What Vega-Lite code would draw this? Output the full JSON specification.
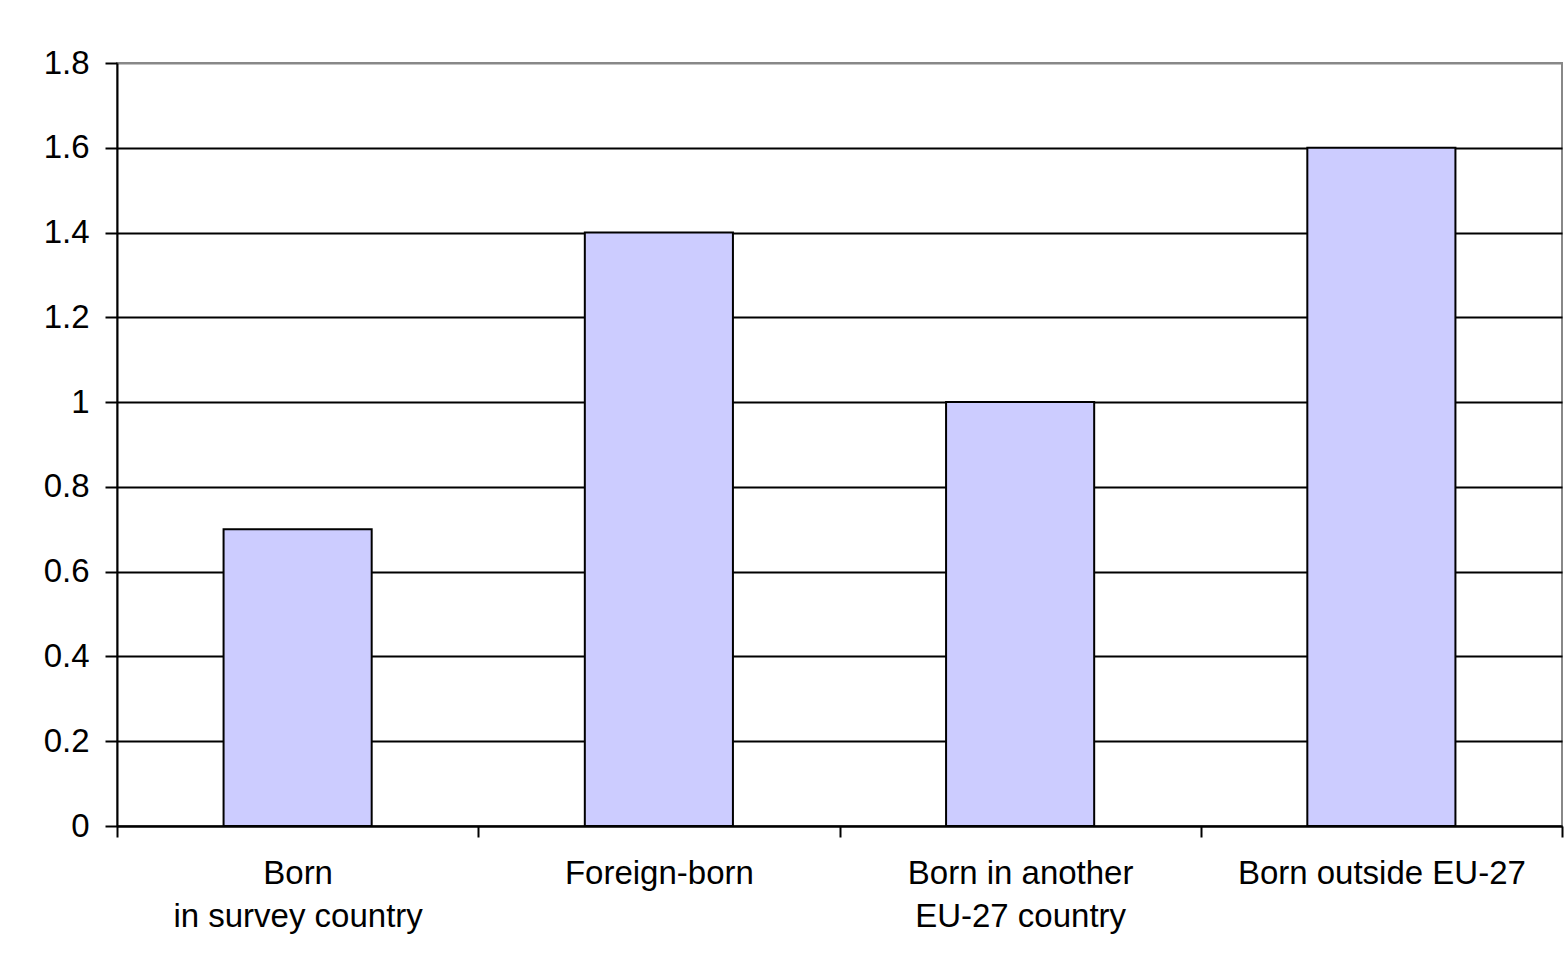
{
  "$schema": "https://vega.github.io/schema/vega-lite/v6.json",
  "autosize": {"type": "none"},
  "width": 1445,
  "height": 763,
  "padding": {"left": 117, "top": 63, "right": 6, "bottom": 140},
  "background": "white",
  "data": {
    "values": [
      {"group": "Born|in survey country", "value": 0.7},
      {"group": "Foreign-born", "value": 1.4},
      {"group": "Born in another|EU-27 country", "value": 1.0},
      {"group": "Born outside EU-27", "value": 1.6}
    ]
  },
  "mark": {"type": "bar", "fill": "#CCCCFF", "stroke": "#000000", "strokeWidth": 2, "width": {"band": 0.41}},
  "encoding": {
    "x": {
      "field": "group",
      "type": "nominal",
      "sort": null,
      "scale": {"paddingInner": 0, "paddingOuter": 0},
      "axis": {
        "title": null,
        "labelAngle": 0,
        "labelExpr": "split(datum.label, '|')",
        "labelFont": "Liberation Sans",
        "labelFontSize": 33,
        "labelColor": "#000000",
        "labelLineHeight": 43,
        "labelPadding": 20,
        "labelLimit": 0,
        "tickBand": "extent",
        "tickColor": "#000000",
        "tickWidth": 2,
        "tickSize": 11,
        "domainColor": "#000000",
        "domainWidth": 2,
        "grid": false
      }
    },
    "y": {
      "field": "value",
      "type": "quantitative",
      "scale": {"domain": [0, 1.8], "nice": false},
      "axis": {
        "title": null,
        "values": [0, 0.2, 0.4, 0.6, 0.8, 1, 1.2, 1.4, 1.6, 1.8],
        "format": "~g",
        "labelFont": "Liberation Sans",
        "labelFontSize": 33,
        "labelColor": "#000000",
        "labelPadding": 16,
        "tickColor": "#000000",
        "tickWidth": 2,
        "tickSize": 12,
        "domainColor": "#000000",
        "domainWidth": 2,
        "grid": true,
        "gridColor": {"condition": {"test": "datum.value >= 1.79", "value": "#888888"}, "value": "#000000"},
        "gridWidth": 2,
        "gridOpacity": 1
      }
    }
  },
  "config": {
    "view": {"stroke": "#888888", "strokeWidth": 2}
  }
}
